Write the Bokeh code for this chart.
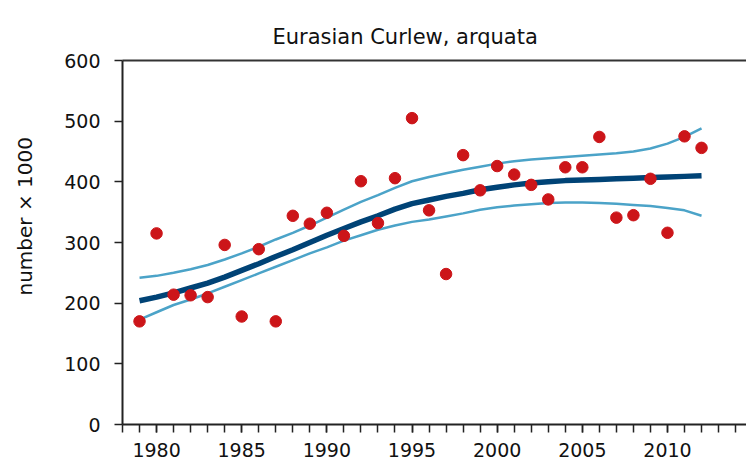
from bokeh.plotting import figure
from bokeh.models import (Range1d, LinearAxis, SingleIntervalTicker, FixedTicker, Title)
from bokeh.embed import file_html
from bokeh.resources import INLINE

# ---- data ----
years = list(range(1979, 2013))
counts = [170, 315, 214, 213, 210, 296, 178, 289, 170, 344, 331, 349, 311, 401,
          332, 406, 505, 353, 248, 444, 386, 426, 412, 395, 371, 424, 424, 474,
          341, 345, 405, 316, 475, 456]
trend = [204, 210, 217, 225, 233, 243, 254, 265, 277, 288, 300, 312, 323, 334,
         344, 355, 364, 370, 376, 381, 387, 391, 395, 398, 400, 402, 403, 404,
         405, 406, 407, 408, 409, 410]
upper = [242, 245, 250, 256, 263, 272, 282, 293, 305, 316, 328, 341, 354, 367,
         378, 390, 401, 408, 414, 420, 425, 430, 434, 437, 439, 441, 443, 445,
         447, 450, 455, 463, 474, 488]
lower = [173, 185, 197, 206, 216, 227, 238, 249, 260, 271, 282, 292, 303, 312,
         321, 328, 334, 338, 343, 348, 354, 358, 361, 363, 365, 366, 366, 365,
         364, 362, 360, 357, 353, 344]
y_ticks = [0, 100, 200, 300, 400, 500, 600]
title_text = "Eurasian Curlew, arquata"
y_label = "number \u00d7 1000"

FONT = "DejaVu Sans"
TXT = "#111111"
AX = "#222222"

p = figure(width=746, height=466, output_backend="svg", toolbar_location=None,
           x_range=Range1d(1978, 2014.64), y_range=Range1d(0, 600),
           min_border_left=122, min_border_right=0, min_border_top=60,
           min_border_bottom=42, x_axis_type=None, y_axis_type=None)
p.outline_line_color = None
p.grid.visible = False
p.background_fill_color = "white"
p.border_fill_color = "white"

# top frame line (innermost above panel)
top = LinearAxis(ticker=FixedTicker(ticks=[]))
top.axis_line_color = "#333333"
top.axis_line_width = 2
top.major_tick_line_color = None
top.minor_tick_line_color = None
top.major_label_text_font_size = "0px"
p.add_layout(top, "above")

# title
t = Title(text=title_text, align="left", offset=150, text_font=FONT,
          text_font_size="21px", text_font_style="normal", text_color=TXT,
          standoff=24)
p.add_layout(t, "above")

# x axis
xax = LinearAxis(ticker=SingleIntervalTicker(interval=5, num_minor_ticks=5))
xax.axis_line_color = AX
xax.axis_line_width = 2
xax.major_tick_out = 8
xax.major_tick_in = 0
xax.minor_tick_out = 8
xax.minor_tick_in = 0
xax.major_tick_line_color = AX
xax.minor_tick_line_color = AX
xax.major_tick_line_width = 1.5
xax.minor_tick_line_width = 1.5
xax.major_label_text_font = FONT
xax.major_label_text_font_size = "19px"
xax.major_label_text_color = TXT
xax.major_label_standoff = 10
p.add_layout(xax, "below")

# y axis
yax = LinearAxis(ticker=FixedTicker(ticks=y_ticks))
yax.axis_line_color = AX
yax.axis_line_width = 2
yax.major_tick_out = 8
yax.major_tick_in = 0
yax.minor_tick_line_color = None
yax.major_tick_line_color = AX
yax.major_tick_line_width = 1.5
yax.major_label_text_font = FONT
yax.major_label_text_font_size = "19px"
yax.major_label_text_color = TXT
yax.major_label_standoff = 14
p.add_layout(yax, "left")

# blank spacer between the tick labels and the y-axis title
spacer = Title(text=" ", text_font_size="1px", standoff=20)
p.add_layout(spacer, "left")

# y-axis title (positioned like the reference, above the frame's middle)
yt = Title(text=y_label, align="left", offset=129, text_font=FONT,
           text_font_size="20px", text_font_style="normal", text_color=TXT,
           standoff=4)
p.add_layout(yt, "left")

p.line(years, upper, line_color="#4BA3C8", line_width=2.5)
p.line(years, lower, line_color="#4BA3C8", line_width=2.5)
p.line(years, trend, line_color="#004376", line_width=5.5)
p.scatter(years, counts, size=11.5, fill_color="#CC1519", line_color="#CC1519")

open("out.html", "w").write(file_html(p, INLINE))
